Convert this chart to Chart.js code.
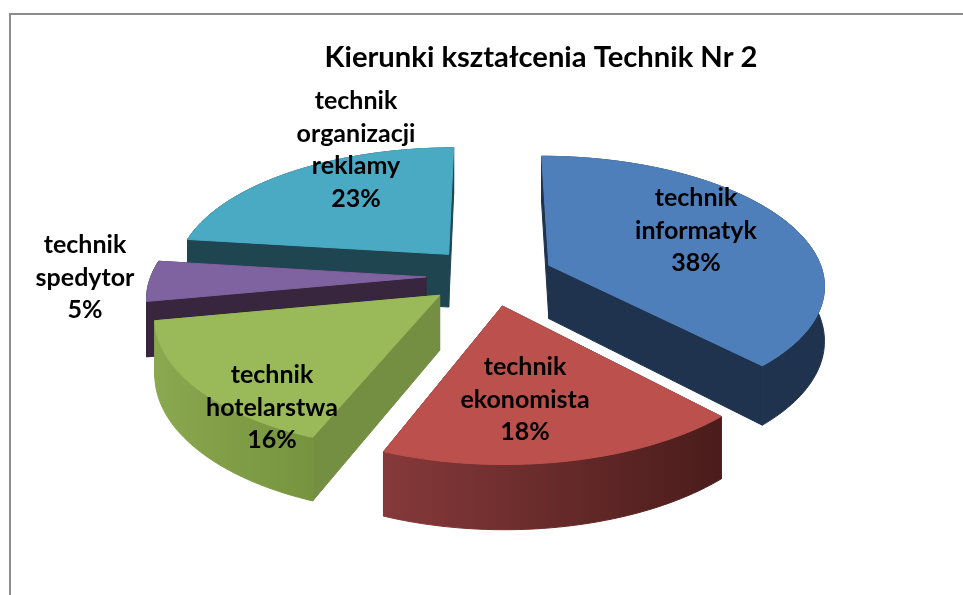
<!DOCTYPE html>
<html lang="pl">
<head>
<meta charset="utf-8">
<style>
html,body{margin:0;padding:0;background:#fff;overflow:hidden}
#box{width:963px;height:595px;position:relative}
canvas{display:block;filter:blur(0.45px)}
</style>
<script src="https://cdn.jsdelivr.net/npm/chart.js@4"></script>
</head>
<body>
<div id="box"><canvas id="c" width="963" height="595"></canvas></div>
<script>
const chartTitle = 'Kierunki kształcenia Technik Nr 2';
const categories = ['technik informatyk','technik ekonomista','technik hotelarstwa','technik spedytor','technik organizacji reklamy'];
const values = [38,18,16,5,23];
const labelLines = [['technik','informatyk'],['technik','ekonomista'],['technik','hotelarstwa'],['technik','spedytor'],['technik','organizacji','reklamy']];
const topColors = ['#4f7fba','#bc504c','#9ab958','#7f62a0','#4aa9c3'];
const cutColors = ['#1f334f','#4c1d1c','#748f42','#38263f','#1f4551'];
const rimLeft  = ['#1f334f','#86393a','#8aa84e','#38263f','#1f4551'];
const rimRight = ['#1f334f','#4a1c1b','#76933f','#38263f','#1f4551'];

/* layout of the projected pie */
const PIE = {cx:490, cy:276, tilt:0.462, persp:0.14, depth:54};
const LABEL_POS = [[696,198],[525,367],[272,375],[85,245],[356,101]];
const LINE_STEP = 32.6;
const drawOrder = [4,3,0,1,2];

function project(u,v,R,z){
  const w = 1/(1-PIE.persp*v);
  return [PIE.cx + R*u*w, PIE.cy + (R*PIE.tilt*v + z)*w];
}

const pie3d = {
  id:'pie3d',
  beforeDatasetDraw(chart){
    const ctx = chart.ctx;
    const arcs = chart.getDatasetMeta(0).data;
    drawOrder.forEach(i=>{
      const p = arcs[i].getProps(['startAngle','endAngle','outerRadius']);
      const R = p.outerRadius, e = arcs[i].options.offset/R;
      const mid = (p.startAngle+p.endAngle)/2;
      const ox = e*Math.cos(mid), oy = e*Math.sin(mid);
      const n = Math.max(8,Math.ceil((p.endAngle-p.startAngle)*40));
      const rim = [];
      for(let k=0;k<=n;k++){
        const a = p.startAngle+(p.endAngle-p.startAngle)*k/n;
        rim.push([ox+Math.cos(a),oy+Math.sin(a)]);
      }
      const paint = (pts,fill)=>{
        ctx.beginPath();
        pts.forEach((q,j)=>j?ctx.lineTo(q[0],q[1]):ctx.moveTo(q[0],q[1]));
        ctx.closePath();
        ctx.fillStyle=fill;ctx.strokeStyle=fill;ctx.lineWidth=1;ctx.fill();ctx.stroke();
      };
      const apex=[ox,oy];
      [rim[0],rim[n]].forEach(end=>paint([
        project(apex[0],apex[1],R,0),project(end[0],end[1],R,0),
        project(end[0],end[1],R,PIE.depth),project(apex[0],apex[1],R,PIE.depth)
      ],cutColors[i]));
      const upper = rim.map(q=>project(q[0],q[1],R,0));
      const lower = rim.map(q=>project(q[0],q[1],R,PIE.depth)).reverse();
      const xs = upper.map(q=>q[0]);
      const grad = ctx.createLinearGradient(Math.min(...xs),0,Math.max(...xs),0);
      grad.addColorStop(0,rimLeft[i]);
      grad.addColorStop(1,rimRight[i]);
      paint(upper.concat(lower),grad);
      paint([project(ox,oy,R,0)].concat(upper),topColors[i]);
    });
    return false;
  },
  afterDraw(chart){
    const ctx = chart.ctx;
    ctx.save();
    ctx.strokeStyle='#8c8c8c';ctx.lineWidth=2;
    ctx.beginPath();ctx.moveTo(963,14);ctx.lineTo(10,14);ctx.lineTo(10,595);ctx.stroke();
    ctx.fillStyle='#000';ctx.textAlign='center';ctx.textBaseline='middle';
    ctx.font='bold 25px Lato';
    const total = values.reduce((a,b)=>a+b,0);
    labelLines.forEach((lines,i)=>{
      const all = lines.concat(Math.round(values[i]/total*100)+'%');
      all.forEach((t,k)=>ctx.fillText(t,LABEL_POS[i][0],LABEL_POS[i][1]+k*LINE_STEP));
    });
    ctx.restore();
  }
};

new Chart(document.getElementById('c'),{
  type:'pie',
  data:{labels:categories,datasets:[{data:values,backgroundColor:topColors,offset:64,borderWidth:0}]},
  options:{
    responsive:false,animation:false,radius:275,
    layout:{padding:{left:119}},
    plugins:{
      legend:{display:false},tooltip:{enabled:false},
      title:{display:true,text:chartTitle,color:'#000',font:{family:'Lato',size:29.2,weight:'bold'},padding:{top:40,bottom:10}}
    }
  },
  plugins:[pie3d]
});
</script>
</body>
</html>
